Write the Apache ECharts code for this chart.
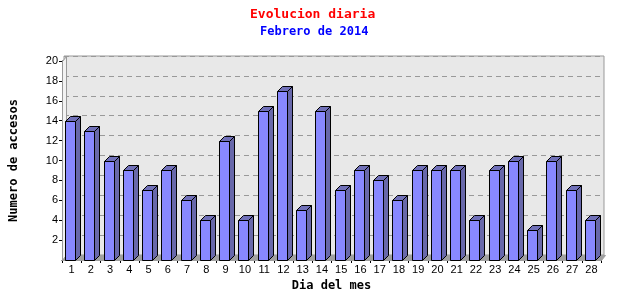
<!DOCTYPE html>
<html><head><meta charset="utf-8">
<script src="https://cdn.jsdelivr.net/npm/echarts@6/dist/echarts.min.js"></script>
<style>html,body{margin:0;padding:0;background:#fff}#c{width:640px;height:300px}</style>
</head><body><div id="c"></div>
<script>
const dias = ['1','2','3','4','5','6','7','8','9','10','11','12','13','14','15','16','17','18','19','20','21','22','23','24','25','26','27','28'];
const accesos = [14,13,10,9,7,9,6,4,12,4,15,17,5,15,7,9,8,6,9,9,9,4,9,10,3,10,7,4];
const yMin = 0, yMax = 20, yStep = 2;
const titulo = 'Evolucion diaria';
const subtitulo = 'Febrero de 2014';
const ejeX = 'Dia del mes';
const ejeY = 'Numero de accesos';

const mono = "'DejaVu Sans Mono', monospace";
const sans = "'Liberation Sans', Arial, sans-serif";
const DX = 4, DY = 5;

const chart = echarts.init(document.getElementById('c'), null, {renderer:'canvas'});
chart.setOption({
  animation: false,
  title: [
    {text: titulo, left: 245, top: 3, textStyle:{color:'#ff0000', fontFamily: mono, fontWeight:'bold', fontSize:13}},
    {text: subtitulo, left: 255, top: 21, textStyle:{color:'#0000ff', fontFamily: mono, fontWeight:'bold', fontSize:12}}
  ],
  grid: [
    {left: 61, right: 39, top: 61, bottom: 40, show: false},
    {left: 64, right: 36, top: 56, bottom: 45, show: true, backgroundColor:'#e8e8e8', borderColor:'#999', borderWidth:1}
  ],
  xAxis: [
    {type:'category', gridIndex:0, data: dias, boundaryGap:true,
     axisLine:{show:true, lineStyle:{color:'#000', width:1}},
     axisTick:{show:true, length:3, lineStyle:{color:'#000'}},
     axisLabel:{color:'#000', fontFamily: sans, fontSize:11, margin:4, interval:0},
     name: ejeX, nameLocation:'middle', nameGap:14,
     nameTextStyle:{color:'#000', fontFamily: mono, fontWeight:'bold', fontSize:12}},
    {type:'category', gridIndex:1, data: dias, show:false}
  ],
  yAxis: [
    {type:'value', gridIndex:0, min:yMin, max:yMax, interval:yStep,
     axisLine:{show:true, lineStyle:{color:'#000', width:1}},
     axisTick:{show:true, length:3, lineStyle:{color:'#000'}},
     axisLabel:{color:'#000', fontFamily: sans, fontSize:11, margin:4, showMinLabel:false},
     splitLine:{show:false},
     name: ejeY, nameLocation:'middle', nameGap:42, nameRotate:90,
     nameTextStyle:{color:'#000', fontFamily: mono, fontWeight:'bold', fontSize:12}},
    {type:'value', gridIndex:1, min:yMin, max:yMax, interval:yStep,
     axisLine:{show:false}, axisTick:{show:false}, axisLabel:{show:false},
     splitLine:{show:true, lineStyle:{color:'#999', type:[5,4], width:1}}}
  ],
  series: [
    {type:'custom', xAxisIndex:0, yAxisIndex:0, z:1, silent:true,
     data:[[0,0]],
     renderItem(params, api){
       const cs = params.coordSys;
       const x = Math.round(cs.x)+0.5, y = Math.round(cs.y)+0.5;
       const w = Math.round(cs.width), h = Math.round(cs.height);
       return {type:'group', children:[
         {type:'polygon', shape:{points:[[x,y],[x+DX,y-DY],[x+DX,y+h-DY],[x,y+h]]}, style:{fill:'#f2f2f2', stroke:'#999', lineWidth:1}},
         {type:'polygon', shape:{points:[[x,y+h],[x+DX,y+h-DY],[x+w+DX,y+h-DY],[x+w,y+h]]}, style:{fill:'#a0a0a0', stroke:'#a0a0a0', lineWidth:1}}
       ]};
     }},
    {type:'custom', xAxisIndex:0, yAxisIndex:0, z:3, silent:true,
     data: accesos.map((v,i)=>[i,v]),
     encode:{x:0, y:1},
     renderItem(params, api){
       const c = api.coord([api.value(0), api.value(1)]);
       const b = api.coord([api.value(0), 0]);
       const fx = Math.round(c[0]-6.5)+0.5, w = 10, d = 5, dy = 5;
       const ty = Math.round(c[1])+0.5, by = Math.round(b[1])+0.5;
       return {type:'group', children:[
         {type:'polygon', shape:{points:[[fx+w,ty],[fx+w+d,ty-dy],[fx+w+d,by-dy],[fx+w,by]]}, style:{fill:'#6868aa', stroke:'#000', lineWidth:1}},
         {type:'polygon', shape:{points:[[fx,ty],[fx+d,ty-dy],[fx+w+d,ty-dy],[fx+w,ty]]}, style:{fill:'#7070b8', stroke:'#000', lineWidth:1}},
         {type:'rect', shape:{x:fx, y:ty, width:w, height:by-ty}, style:{fill:'#8888ff', stroke:'#000', lineWidth:1}}
       ]};
     }}
  ]
});
</script></body></html>
